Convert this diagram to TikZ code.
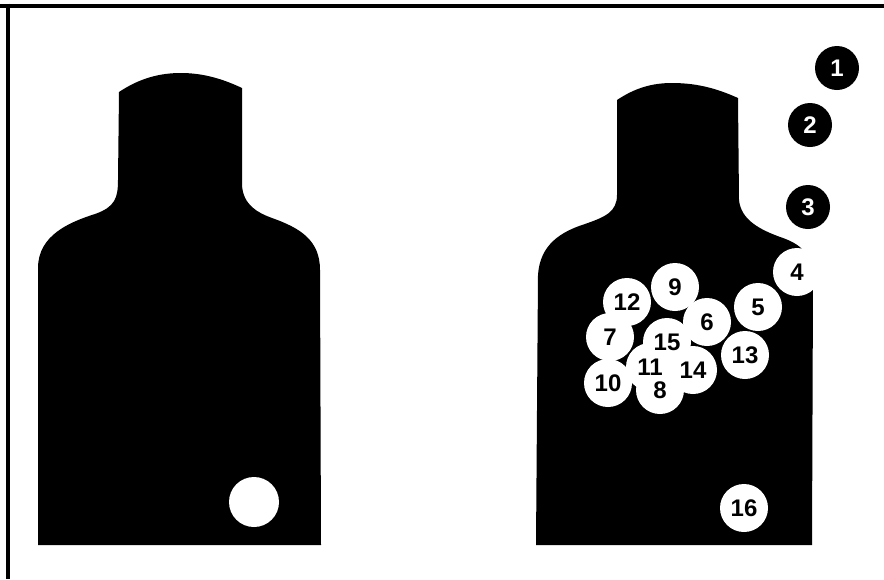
\documentclass[tikz,border=0pt]{standalone}
\usepackage{fontspec}
\setmainfont{Liberation Sans}
\begin{document}
\begin{tikzpicture}[x=1pt,y=-1pt,
  silhouette/.style={fill=black,draw=none},
  hole/.style={circle,fill=white,draw=none,inner sep=0pt,minimum size=#1},
  hole/.default=48,
  miss/.style={circle,fill=black,draw=none,inner sep=0pt,minimum size=44},
  numlbl/.style={font=\fontsize{24}{24}\selectfont\bfseries,inner sep=0pt},
  framerule/.style={line width=4pt,line cap=butt}]
\useasboundingbox (0,0) rectangle (884,579);
% frame (top and left only)
\coordinate (ftr) at (884,5.5);
\coordinate (fbl) at (8,579);
\draw[framerule] (-1,5.5) -- (ftr);
\draw[framerule] (8,3.5) -- (fbl);
% left silhouette
\path[silhouette] (38,545) -- (38,268)
  .. controls (38,235) and (70,222) .. (95,214)
  .. controls (115,207) and (118,198) .. (118,180)
  -- (119,92)
  .. controls (140,78) and (160,73) .. (181,73)
  .. controls (205,73) and (225,80) .. (242,88)
  -- (242,185)
  .. controls (243,205) and (258,213) .. (272,218)
  .. controls (300,228) and (320,240) .. (320,270)
  -- (321,545) -- cycle;
\node[hole=50] (lh) at (254,502) {};
% right silhouette
\path[silhouette] (536,545) -- (538,275)
  .. controls (540,245) and (560,232) .. (585,224)
  .. controls (605,217) and (617,212) .. (617,195)
  -- (617,100)
  .. controls (635,88) and (652,83) .. (672,83)
  .. controls (700,83) and (720,90) .. (738,98)
  -- (739,200)
  .. controls (741,220) and (760,230) .. (783,238)
  .. controls (805,246) and (813,258) .. (813,280)
  -- (812,545) -- cycle;
% holes in the right target
\foreach \n/\x/\y in {4/797/272, 9/675/287, 12/627/302, 5/758/307,
    6/707/322, 7/610/337, 15/667/342, 13/745/355, 11/650/367,
    14/693/370, 10/608/383, 8/660/390, 16/744/508} {
  \node[hole] (h\n) at (\x,\y) {};
}
\foreach \n in {4,9,12,5,6,7,15,13,11,14,10,8,16} {
  \node[numlbl] (t\n) at (h\n.center) {\n};
}
% misses outside the target
\node[miss] (h1) at (837,68) {};
\node[miss] (h2) at (810,125) {};
\node[miss] (h3) at (808,207) {};
\foreach \n in {1,2,3} {
  \node[numlbl,text=white] (t\n) at (h\n.center) {\n};
}
\end{tikzpicture}
\end{document}
